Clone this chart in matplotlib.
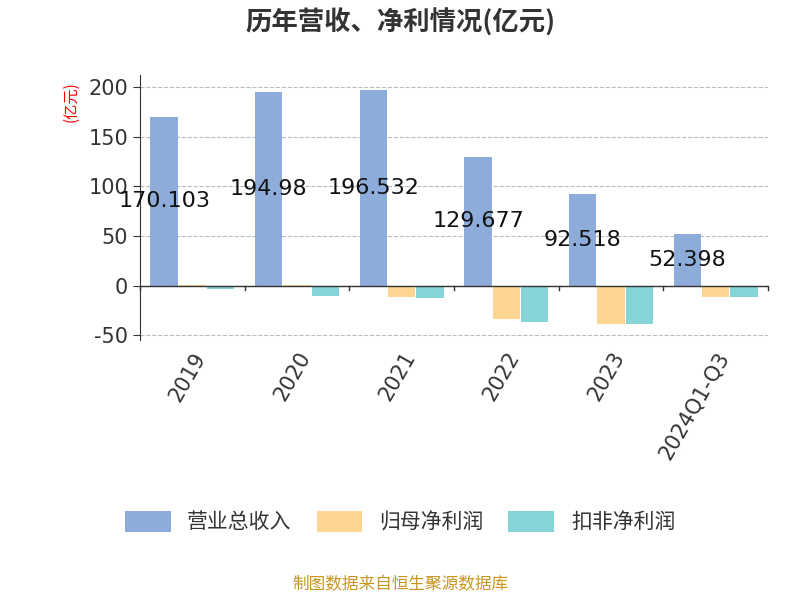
import matplotlib
matplotlib.use("Agg")
import matplotlib.pyplot as plt
import numpy as np

plt.rcParams['font.family'] = ['DejaVu Sans', 'Noto Sans CJK SC']
plt.rcParams['axes.unicode_minus'] = False

categories = ["2019", "2020", "2021", "2022", "2023", "2024Q1-Q3"]
revenue = [170.103, 194.98, 196.532, 129.677, 92.518, 52.398]
net_profit = [0.5, 1.0, -12.0, -34.0, -39.0, -12.0]
deducted = [-3.0, -11.0, -13.0, -37.0, -39.0, -12.0]
labels = ["170.103", "194.98", "196.532", "129.677", "92.518", "52.398"]

fig = plt.figure(figsize=(8, 6), dpi=100)
ax = fig.add_axes([0.175, 0.433, 0.785, 0.442])
x = np.arange(len(categories))
w = 0.26
ax.bar(x - w - 0.01, revenue, w, color='#8eacd9', label='营业总收入', zorder=3)
ax.bar(x, net_profit, w, color='#ffd592', label='归母净利润', zorder=3)
ax.bar(x + w + 0.01, deducted, w, color='#85d4d8', label='扣非净利润', zorder=3)
for i, v in enumerate(revenue):
    ax.text(x[i] - w - 0.01, v / 2, labels[i], ha='center', va='center', fontsize=16, color='#111111', zorder=4)

ax.set_xlim(-0.5, len(categories) - 0.5)
ax.set_ylim(-55, 212)
ax.set_yticks([-50, 0, 50, 100, 150, 200])
ax.tick_params(axis='y', labelsize=15, colors='#333333', length=5)
ax.set_xticks(x)
ax.set_xticklabels(categories, rotation=60, ha='right', rotation_mode='anchor', fontsize=15, color='#333333')
ax.tick_params(axis='x', length=0, pad=6)
ax.grid(axis='y', linestyle='--', color='#bbbbbb', zorder=0)
for s in ['top', 'right', 'bottom']:
    ax.spines[s].set_visible(False)
ax.spines['left'].set_color('#333333')
ax.axhline(0, color='#333333', lw=1, zorder=4)
for b in np.arange(-0.5, len(categories), 1.0):
    ax.plot([b, b], [0, -4], color='#333333', lw=1, clip_on=False, zorder=4)
ax.text(-0.11, 0.9, '(亿元)', transform=ax.transAxes, rotation=90, color='red', fontsize=11, ha='center', va='center',
        family=['Noto Sans CJK SC'])

fig.suptitle('历年营收、净利情况(亿元)', fontsize=19, fontweight='bold', color='#333333', y=0.985,
             family=['Noto Sans CJK SC'])
fig.legend(loc='lower center', bbox_to_anchor=(0.5, 0.08), ncol=3, frameon=False,
           prop={'family': ['Noto Sans CJK SC'], 'size': 15},
           handlelength=2.2, handleheight=1.2, columnspacing=1.2, labelcolor='#333333')
fig.text(0.5, 0.018, '制图数据来自恒生聚源数据库', ha='center', fontsize=12, color='#c8961e', family=['Noto Sans CJK SC'])
fig.savefig('out.png')
